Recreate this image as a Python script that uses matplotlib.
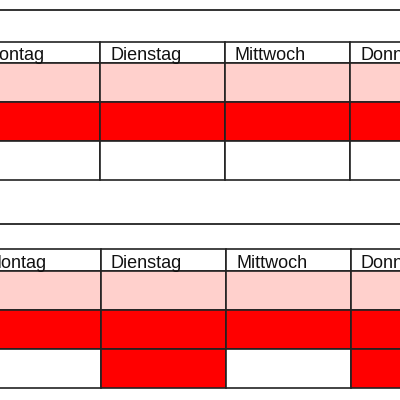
import matplotlib
matplotlib.use("Agg")
import matplotlib.pyplot as plt
from matplotlib.patches import Rectangle

days = ["Montag", "Dienstag", "Mittwoch", "Donnerstag"]
# cell states per table: 0 white, 1 pink, 2 red
table1 = [[1, 1, 1, 1], [2, 2, 2, 2], [0, 0, 0, 0]]
table2 = [[1, 1, 1, 1], [2, 2, 2, 2], [0, 2, 0, 2]]
colors = {0: "#ffffff", 1: "#ffd0cc", 2: "#ff0000"}

fig = plt.figure(figsize=(4, 4), dpi=100)
ax = fig.add_axes([0, 0, 1, 1])
ax.set_xlim(0, 400)
ax.set_ylim(400, 0)
ax.axis("off")

def draw(table, line_y, top, xs, header_h, row_h):
    ax.plot([0, 400], [line_y, line_y], color="#222222", lw=1.3)
    w = 125
    for j, d in enumerate(days):
        x = xs + j * w
        ax.add_patch(Rectangle((x, top), w, header_h, facecolor="white", edgecolor="#222222", lw=1.2))
        ax.text(x + 10, top + header_h - 3.5, d, fontsize=13, family="Liberation Sans",
                va="baseline", ha="left", color="#111111", clip_on=True)
        for i, row in enumerate(table):
            y = top + header_h + i * row_h
            ax.add_patch(Rectangle((x, y), w, row_h, facecolor=colors[row[j]], edgecolor="#222222", lw=1.2))

draw(table1, 10, 42, -25, 21, 39)
draw(table2, 224, 249, -24, 22, 39)

fig.savefig("out.png", dpi=100)
